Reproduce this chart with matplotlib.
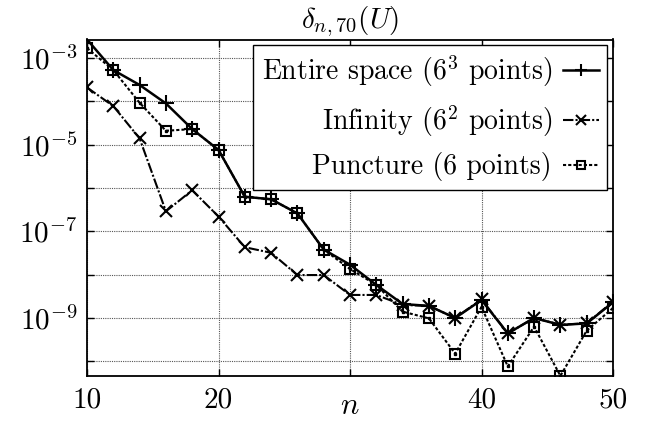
import matplotlib
matplotlib.use('Agg')
import matplotlib.pyplot as plt

n = [10, 12, 14, 16, 18, 20, 22, 24, 26, 28, 30, 32, 34, 36, 38, 40, 42, 44, 46, 48, 50]

entire_space = [2.7e-3, 5.3e-4, 2.4e-4, 9.0e-5, 2.3e-5, 7.6e-6, 6.3e-7, 5.5e-7, 2.6e-7, 3.8e-8,
                1.7e-8, 5.8e-9, 2.1e-9, 1.9e-9, 1.0e-9, 2.6e-9, 4.4e-10, 1.0e-9, 6.9e-10, 7.5e-10,
                2.3e-9]
infinity = [2.1e-4, 7.8e-5, 1.4e-5, 2.9e-7, 8.9e-7, 2.2e-7, 4.3e-8, 3.2e-8, 9.8e-9, 9.8e-9,
            3.4e-9, 3.4e-9, 2.0e-9, 1.9e-9, 1.0e-9, 2.7e-9, 4.4e-10, 1.0e-9, 7.0e-10, 7.5e-10,
            2.4e-9]
puncture = [1.7e-3, 5.3e-4, 9.3e-5, 2.1e-5, 2.3e-5, 7.6e-6, 6.3e-7, 5.5e-7, 2.6e-7, 3.8e-8,
            1.35e-8, 5.8e-9, 1.4e-9, 9.8e-10, 1.5e-10, 1.8e-9, 7.6e-11, 6.3e-10, 4.6e-11, 5.1e-10,
            1.7e-9]

labels = ['Entire space ($6^3$ points)', 'Infinity ($6^2$ points)', 'Puncture (6 points)']

x_ticks = [10, 20, 30, 40, 50]
x_tick_labels = ['10', '20', '', '40', '50']
y_ticks = [1e-10, 1e-9, 1e-8, 1e-7, 1e-6, 1e-5, 1e-4, 1e-3]
y_tick_labels = ['', r'$10^{-9}$', '', r'$10^{-7}$', '', r'$10^{-5}$', '', r'$10^{-3}$']

plt.rcParams['font.family'] = ['cmr10']
plt.rcParams['mathtext.fontset'] = 'cm'
plt.rcParams['axes.formatter.use_mathtext'] = True

fig = plt.figure(figsize=(6.46, 4.21), dpi=100)
ax = fig.add_axes([87 / 646, 1 - 376 / 421, (613 - 87) / 646, (376 - 39.5) / 421])

ax.plot(n, entire_space, color='black', linewidth=1.8, linestyle='-',
        marker='+', markersize=11, markeredgewidth=1.5, label=labels[0], zorder=4)
ax.plot(n, infinity, color='black', linewidth=1.5, linestyle=(0, (5, 1, 1, 1)),
        marker='x', markersize=9, markeredgewidth=1.5, label=labels[1], zorder=3)
ax.plot(n, puncture, color='black', linewidth=1.5, linestyle=(0, (1.5, 1)),
        marker='s', markersize=7.5, markeredgewidth=1.5, markerfacecolor='none',
        label=labels[2], zorder=3)
# little dot inside the squares
ax.plot(n, puncture, color='black', linestyle='none', marker='s', markersize=1.8,
        zorder=3)

ax.set_yscale('log')
ax.set_xlim(10, 50)
ax.set_ylim(10 ** -10.34, 10 ** -2.57)

ax.set_xticks(x_ticks)
ax.set_xticklabels(x_tick_labels)
ax.set_yticks(y_ticks)
ax.set_yticklabels(y_tick_labels)
ax.minorticks_off()
ax.tick_params(direction='in', length=5, width=1, top=True, right=True, labelsize=21)
ax.tick_params(axis='x', pad=8)
ax.tick_params(axis='y', pad=7)

ax.grid(True, color='#555555', linestyle=(0, (1, 1)), linewidth=0.8)
for sp in ax.spines.values():
    sp.set_linewidth(1.3)

ax.set_xlabel('$n$', fontsize=22)
ax.xaxis.set_label_coords(0.5, -0.05)
ax.set_title(r'$\delta_{n,70}(U)$', fontsize=21, pad=8)

leg = ax.legend(loc='upper right', markerfirst=False, fontsize=20, frameon=True,
                fancybox=False, framealpha=1, edgecolor='black', handlelength=1.3,
                handletextpad=0.4, labelspacing=0.5, borderpad=0.3,
                borderaxespad=0.2, markerscale=0.75)
leg.get_frame().set_linewidth(1.0)

fig.savefig('out.png', dpi=100)
